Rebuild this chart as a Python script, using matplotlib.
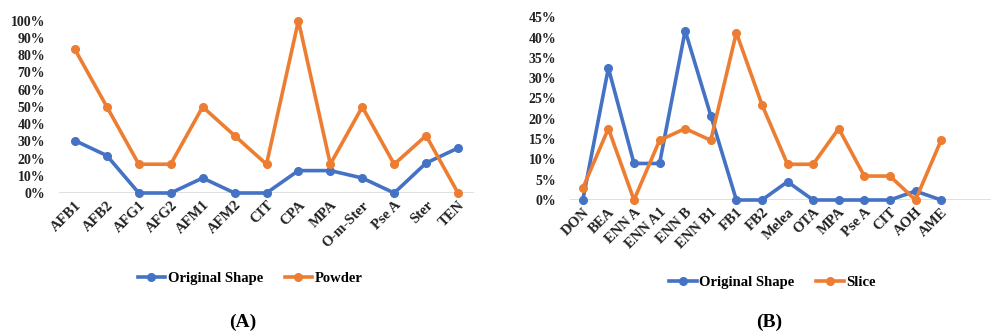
import matplotlib
matplotlib.use("Agg")
import matplotlib.pyplot as plt
from matplotlib.ticker import PercentFormatter

plt.rcParams['font.family'] = ['Liberation Serif', 'DejaVu Serif']

cats_a = ["AFB1", "AFB2", "AFG1", "AFG2", "AFM1", "AFM2", "CIT", "CPA", "MPA",
          "O-m-Ster", "Pse A", "Ster", "TEN"]
orig_a = [30.4, 21.7, 0, 0, 8.7, 0, 0, 13.0, 13.0, 8.7, 0, 17.4, 26.1]
powder_a = [83.3, 50.0, 16.7, 16.7, 50.0, 33.3, 16.7, 100.0, 16.7, 50.0, 16.7, 33.3, 0]

cats_b = ["DON", "BEA", "ENN A", "ENN A1", "ENN B", "ENN B1", "FB1", "FB2", "Melea",
          "OTA", "MPA", "Pse A", "CIT", "AOH", "AME"]
orig_b = [0, 32.5, 9.0, 9.0, 41.7, 20.8, 0, 0, 4.5, 0, 0, 0, 0, 2.2, 0]
slice_b = [2.9, 17.6, 0, 14.7, 17.6, 14.7, 41.2, 23.5, 8.8, 8.8, 17.6, 5.9, 5.9, 0, 14.7]

BLUE = "#4472C4"
ORANGE = "#ED7D31"
GRID = "#D9D9D9"

fig = plt.figure(figsize=(9.91, 3.35), dpi=100)

def style(ax, cats, ymax, ystep):
    for s in ax.spines.values():
        s.set_visible(False)
    ax.axhline(0, color=GRID, lw=1.2, zorder=0)
    ax.set_ylim(0, ymax)
    ax.set_yticks([i * ystep for i in range(int(round(ymax / ystep)) + 1)])
    ax.yaxis.set_major_formatter(PercentFormatter(decimals=0))
    ax.tick_params(axis='y', length=0, pad=10, labelsize=10)
    ax.tick_params(axis='x', length=0, pad=4, labelsize=10.5)
    ax.set_xticks(range(len(cats)))
    ax.set_xticklabels(cats, rotation=45, ha='right', rotation_mode='anchor')
    for lab in ax.get_xticklabels() + ax.get_yticklabels():
        lab.set_fontweight('bold')
        lab.set_color('#222222')

# Panel A
axA = fig.add_axes([59 / 991, 1 - 193 / 335, 415 / 991, (193 - 20.7) / 335])
xa = range(len(cats_a))
axA.plot(xa, orig_a, color=BLUE, lw=2.6, marker='o', ms=5.5, clip_on=False, label='Original Shape')
axA.plot(xa, powder_a, color=ORANGE, lw=2.6, marker='o', ms=5.5, clip_on=False, label='Powder')
axA.set_xlim(-0.5, len(cats_a) - 0.5)
style(axA, cats_a, 100, 10)

# Panel B
axB = fig.add_axes([570 / 991, 1 - 200 / 335, 421 / 991, (200 - 17.3) / 335])
xb = range(len(cats_b))
axB.plot(xb, orig_b, color=BLUE, lw=2.6, marker='o', ms=5.5, clip_on=False, label='Original Shape')
axB.plot(xb, slice_b, color=ORANGE, lw=2.6, marker='o', ms=5.5, clip_on=False, label='Slice')
axB.set_xlim(-0.5, len(cats_b) + 0.95)
style(axB, cats_b, 45, 5)

legkw = dict(frameon=False, ncol=2, handlelength=1.9, handletextpad=0.15, columnspacing=1.5,
             prop={'weight': 'bold', 'size': 10.5}, loc='center')
fig.legend(*axA.get_legend_handles_labels(), bbox_to_anchor=(250 / 991, 1 - 278 / 335), **legkw)
fig.legend(*axB.get_legend_handles_labels(), bbox_to_anchor=(772 / 991, 1 - 282 / 335), **legkw)

fig.text(243 / 991, 1 - 322 / 335, "(A)", ha='center', va='center', fontsize=14, fontweight='bold')
fig.text(769 / 991, 1 - 322 / 335, "(B)", ha='center', va='center', fontsize=14, fontweight='bold')

fig.savefig("out.png", dpi=100, facecolor='white')
